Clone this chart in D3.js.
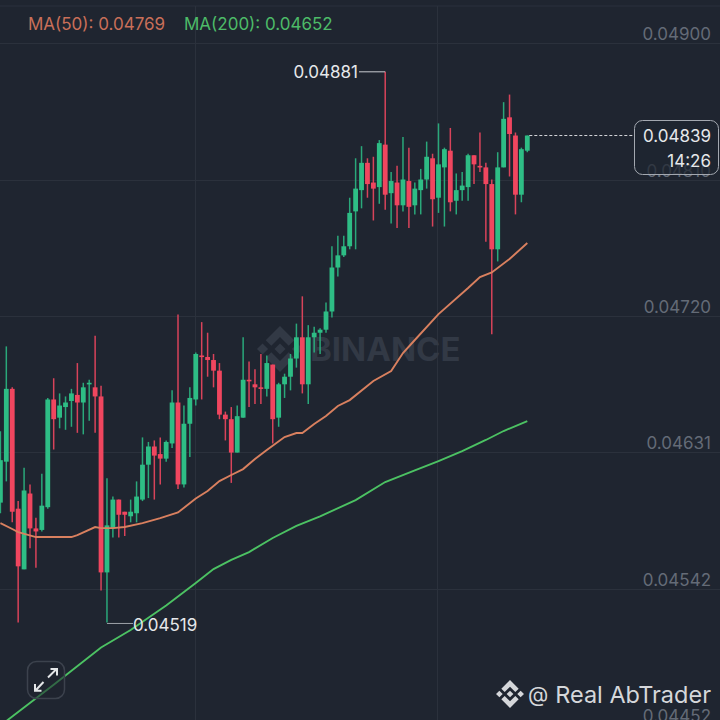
<!DOCTYPE html>
<html><head><meta charset="utf-8">
<style>html,body{margin:0;padding:0;background:#1f2530}svg{display:block}text{font-family:Inter,"Noto Sans",sans-serif}</style>
<script src="https://cdn.jsdelivr.net/npm/d3@7/dist/d3.min.js"></script>
</head><body><div id="chart"></div>
<script>
// prices are in units of 0.00001
const tickPrices=[4900,4809.7,4720,4630.4,4540,4450.4];
const tickLabels=["0.04900","0.04810","0.04720","0.04631","0.04542","0.04452"];
const opens=[4597,4624,4672,4593,4553,4603,4580,4579,4594,4665,4653,4660,4664,4668,4663,4675,4673,4667,4551,4580,4599,4591,4588,4590,4599,4622,4634,4629,4626,4636,4663,4609,4649,4665,4694,4693,4691,4684,4655,4652,4630,4653,4678,4675,4673,4672,4688,4653,4675,4680,4692,4706,4675,4706,4709,4711,4723,4752,4760,4766,4789,4803,4821,4808,4805,4833,4801,4808,4793,4809,4793,4803,4810,4824,4798,4818,4829,4796,4803,4805,4826,4819,4818,4807,4764,4818,4851,4839,4800,4829];
const closes=[4625,4672,4591,4555,4605,4580,4578,4595,4665,4652,4661,4663,4669,4663,4673,4676,4667,4551,4582,4599,4589,4589,4591,4601,4622,4634,4628,4626,4637,4663,4609,4649,4666,4695,4693,4691,4684,4655,4652,4630,4654,4678,4677,4673,4672,4689,4652,4675,4680,4692,4706,4675,4706,4709,4711,4723,4752,4760,4766,4788,4804,4821,4807,4804,4834,4800,4809,4793,4810,4792,4804,4810,4825,4797,4820,4830,4795,4803,4806,4826,4820,4818,4807,4764,4818,4850,4840,4800,4830,4839];
const highs=[4644,4700,4673,4598,4620,4609,4587,4616,4666,4679,4669,4667,4672,4689,4676,4678,4707,4674,4613,4601,4599,4591,4599,4611,4640,4637,4638,4640,4638,4671,4721,4661,4673,4696,4716,4709,4695,4689,4657,4660,4661,4706,4690,4685,4695,4694,4688,4676,4682,4695,4715,4733,4714,4713,4712,4729,4766,4773,4773,4798,4824,4832,4824,4825,4836,4881,4815,4819,4838,4831,4808,4817,4835,4827,4847,4831,4844,4814,4815,4827,4826,4841,4821,4810,4828,4861,4866,4841,4831,4839];
const lows=[4590,4611,4584,4518,4553,4567,4554,4578,4593,4632,4646,4645,4647,4643,4642,4651,4643,4539,4518,4574,4574,4575,4584,4584,4598,4600,4599,4609,4624,4633,4606,4607,4627,4661,4665,4680,4673,4652,4638,4610,4630,4653,4660,4662,4662,4667,4636,4647,4666,4671,4686,4669,4662,4696,4695,4709,4719,4746,4759,4764,4764,4791,4798,4783,4794,4790,4781,4778,4789,4778,4787,4787,4804,4779,4788,4779,4789,4787,4796,4796,4807,4815,4769,4708,4756,4818,4812,4787,4795,4828];
const ma50Idx=[0,2,3,6,8,12,13,16,17,19,21,24,27,30,33,35,37,39,41,43,45,48,50,51,53,55,57,59,63,66,68,70,74,79,81,83,86,89];
const ma50Val=[4583.5,4579.6,4577.6,4574.3,4574.3,4574.3,4575.6,4580.9,4580.2,4580.2,4580.9,4583.5,4586.8,4590.5,4599.7,4604.6,4611.2,4615.2,4619.1,4625.7,4631.7,4640.2,4642.9,4642.9,4648.8,4654.1,4660.7,4664.6,4677.2,4683.8,4695.6,4704.2,4721.3,4738.5,4745.7,4748.7,4757.6,4768.1];
const ma200Idx=[-1,1,9,17,22,28,33,36,39,42,46,50,54,60,65,70,74,78,82,85,89];
const ma200Val=[4449.7,4453,4477,4501.5,4513,4529.2,4544,4553.2,4559.2,4564.4,4573.7,4581.6,4587.9,4598.7,4610.6,4618.2,4624.4,4631,4638.3,4644.2,4650.8];
const maLabels=["MA(50): 0.04769","MA(200): 0.04652"];
const lastPrice=4839, lastLabel="0.04839", countdown="14:26";
const highLabel="0.04881", lowLabel="0.04519";
const wmText="BINANCE", credit="Real AbTrader";

const W=720,H=720;
const bg="#1f2530",grid="#2b313c",axisC="#646b77",up="#2ebd85",down="#f0465f";
const x=d3.scaleLinear().domain([0,89]).range([0.4,527.3]);
const y=d3.scaleLinear().domain([4900,4450.4]).range([43,725]);
const svg=d3.select("#chart").append("svg").attr("width",W).attr("height",H);
svg.append("rect").attr("width",W).attr("height",H).attr("fill",bg);

// grid
svg.append("line").attr("x1",0).attr("x2",W).attr("y1",6).attr("y2",6).attr("stroke",grid).attr("stroke-width",1);
svg.selectAll(".hg").data(tickPrices).join("line").attr("x1",0).attr("x2",W)
  .attr("y1",d=>Math.round(y(d))+.5).attr("y2",d=>Math.round(y(d))+.5).attr("stroke",grid);
svg.selectAll(".vg").data([195.5,437.5]).join("line").attr("x1",d=>d).attr("x2",d=>d).attr("y1",6).attr("y2",H).attr("stroke",grid);

// binance diamond mark
function mark(g,s,col){
  const dia=(cx,r)=>`M${(cx-r)*s},0L${cx*s},${-r*s}L${(cx+r)*s},0L${cx*s},${r*s}Z`;
  const chev=k=>`M0,${-.52*k*s}L${-.38*s},${-.14*k*s}L${-.62*s},${-.38*k*s}L0,${-1*k*s}L${.62*s},${-.38*k*s}L${.38*s},${-.14*k*s}Z`;
  g.append("path").attr("fill",col).attr("d",[dia(0,.24),dia(-.76,.24),dia(.76,.24),chev(1),chev(-1)].join(""));
}
const wm=svg.append("g").attr("transform","translate(280,349)");
mark(wm,23,"#323945");
svg.append("text").attr("x",310).attr("y",361).attr("font-size",33).attr("font-weight",700)
  .attr("fill","#323945").text(wmText);

// candles
const idx=d3.range(opens.length);
const cg=svg.append("g");
cg.selectAll(".w").data(idx).join("line").attr("x1",i=>x(i)).attr("x2",i=>x(i))
  .attr("y1",i=>y(highs[i])).attr("y2",i=>y(lows[i])).attr("stroke-width",1.5)
  .attr("stroke",i=>closes[i]>=opens[i]?"#2aa87a":"#d8435a");
cg.selectAll(".b").data(idx).join("rect").attr("x",i=>x(i)-2.4).attr("width",4.8)
  .attr("y",i=>y(Math.max(opens[i],closes[i])))
  .attr("height",i=>Math.max(1.6,Math.abs(y(opens[i])-y(closes[i]))))
  .attr("fill",i=>closes[i]>=opens[i]?up:down);

// moving averages
const mk=(a,b)=>d3.line().x((d,i)=>x(a[i])).y((d,i)=>y(b[i]))(a);
svg.append("path").attr("d",mk(ma50Idx,ma50Val)).attr("fill","none").attr("stroke","#d9805f").attr("stroke-width",1.9);
svg.append("path").attr("d",mk(ma200Idx,ma200Val)).attr("fill","none").attr("stroke","#4cc263").attr("stroke-width",1.9);

// axis labels
const ax=svg.append("g").attr("transform","translate(711,0)")
  .call(d3.axisRight(y).tickValues(tickPrices).tickFormat((d,i)=>tickLabels[i]).tickSize(0).tickPadding(0));
ax.select(".domain").remove();
ax.selectAll("text").attr("text-anchor","end").attr("x",0).attr("dy","-3.4px")
  .attr("font-size",17).attr("font-family","Inter,sans-serif").attr("fill",axisC);

// legend
const tx=(t,xx,yy,fs,col,anc)=>svg.append("text").attr("x",xx).attr("y",yy).attr("font-size",fs).attr("fill",col).attr("text-anchor",anc||"start").text(t);
tx(maLabels[0],28,30,17,"#c96f59");
tx(maLabels[1],184,30,17,"#4dbb68");

// hi/lo callouts
const iHi=highs.indexOf(d3.max(highs)), iLo=17+1;
svg.append("line").attr("x1",x(iHi)).attr("x2",359).attr("y1",y(highs[iHi])).attr("y2",y(highs[iHi])).attr("stroke","#c9ccd1").attr("stroke-width",1);
tx(highLabel,358,y(highs[iHi])+6,17,"#e6e8ea","end");
svg.append("line").attr("x1",x(iLo)).attr("x2",133).attr("y1",y(lows[iLo])+1).attr("y2",y(lows[iLo])+1).attr("stroke","#9da2a9").attr("stroke-width",1);
tx(lowLabel,133,y(lows[iLo])+8.5,17,"#e6e8ea");

// last price
const ly=y(lastPrice);
svg.append("line").attr("x1",x(89)+2).attr("x2",634).attr("y1",ly).attr("y2",ly).attr("stroke","#d5d7da").attr("stroke-width",1).attr("stroke-dasharray","3,2");
svg.append("rect").attr("x",634.5).attr("y",120.5).attr("width",84).attr("height",54).attr("rx",8).attr("fill",bg).attr("fill-opacity",.72).attr("stroke","#a3a8b0").attr("stroke-width",1);
tx(lastLabel,711,142,17,"#e6e8ea","end");
tx(countdown,711,167,17,"#e6e8ea","end");

// expand button
const eb=svg.append("g");
eb.append("rect").attr("x",27.5).attr("y",661.5).attr("width",37).attr("height",37).attr("rx",9).attr("fill",bg).attr("fill-opacity",.55).attr("stroke","#3c424d").attr("stroke-width",1.5);
eb.append("path").attr("fill","none").attr("stroke","#e4e6e8").attr("stroke-width",2)
  .attr("d","M48,677.5L56.5,669M50.5,669H57V675.5M43.5,682L35.5,690.5M35,684V690.8H41.5");

// credit
const lg=svg.append("g").attr("transform","translate(510,694)");
mark(lg,14,"#d5d7da");
tx("@",528,702,21,"#d5d7da").attr("font-family","DejaVu Sans");
tx(credit,711,703,23.5,"#d5d7da","end").attr("font-family","DejaVu Sans");
</script></body></html>
